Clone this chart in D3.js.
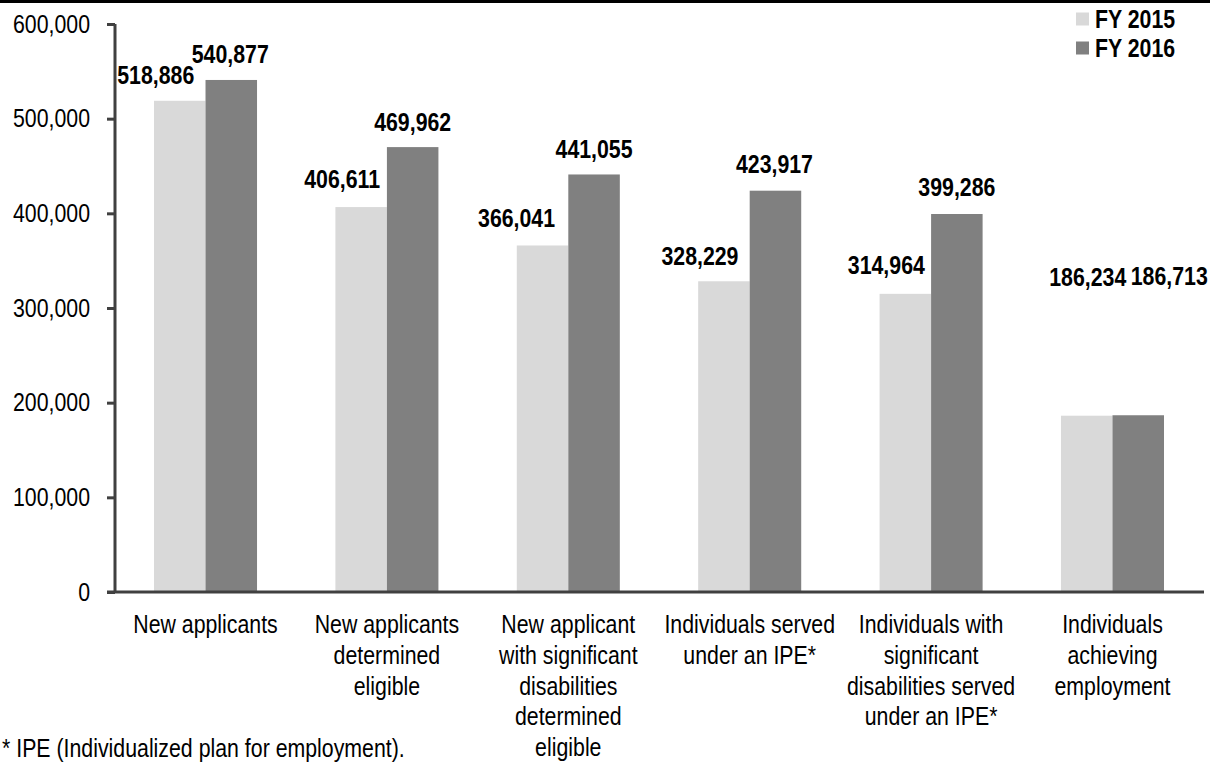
<!DOCTYPE html>
<html>
<head>
<meta charset="utf-8">
<script src="https://cdn.jsdelivr.net/npm/d3@7"></script>
<style>
  html, body { margin: 0; padding: 0; background: #ffffff; }
  svg { display: block; }
  text { font-family: "Liberation Sans", Arial, sans-serif; fill: #000; }
</style>
</head>
<body>
<svg id="chart" width="1210" height="763"></svg>
<script>
// ---------- data ----------
const categories = [
  "New applicants",
  "New applicants\ndetermined\neligible",
  "New applicant\nwith significant\ndisabilities\ndetermined\neligible",
  "Individuals served\nunder an IPE*",
  "Individuals with\nsignificant\ndisabilities served\nunder an IPE*",
  "Individuals\nachieving\nemployment"
];
const seriesNames = ["FY 2015", "FY 2016"];
const fy2015 = [518886, 406611, 366041, 328229, 314964, 186234];
const fy2016 = [540877, 469962, 441055, 423917, 399286, 186713];
const yTicks = [0, 100000, 200000, 300000, 400000, 500000, 600000];
const footnote = "* IPE (Individualized plan for employment).";

// ---------- layout (not data) ----------
const colors = ["#d9d9d9", "#808080"];
const axisColor = "#404040";
const sx = 0.82;               // condensed text look
const fontSize = 26;
// label nudges (manual placement in the original)
const labelDx = [[-24, -19, -26, -24, -19, 1], [-1, 0, 0, -1, 0, 31]];
const labelLift = [[26, 28, 28, 25, 29, 139], [26, 25, 26, 27, 27, 139]];

const svg = d3.select("#chart");

// top rule
svg.append("rect").attr("x", 0).attr("y", 0).attr("width", 1210).attr("height", 3).attr("fill", "#000");

const y = d3.scaleLinear().domain([0, 600000]).range([592, 24]);
const x0 = d3.scaleBand().domain(categories).range([115, 1203]).paddingInner(0.432).paddingOuter(0.215);
const x1 = d3.scaleBand().domain(seriesNames).range([0, x0.bandwidth()]);

const series = [fy2015, fy2016];
const fmt = d3.format(",");

// bars
series.forEach((vals, si) => {
  svg.append("g").selectAll("rect")
    .data(vals)
    .join("rect")
    .attr("x", (d, i) => x0(categories[i]) + x1(seriesNames[si]))
    .attr("y", d => y(d))
    .attr("width", x1.bandwidth())
    .attr("height", d => y(0) - y(d))
    .attr("fill", colors[si]);
});

// y axis
const yAxis = d3.axisLeft(y).tickValues(yTicks).tickFormat(fmt).tickSize(8).tickPadding(0);
const gy = svg.append("g").attr("transform", "translate(115,0)").call(yAxis);
gy.select(".domain").attr("stroke", axisColor).attr("stroke-width", 3)
  .attr("d", `M0,${y(600000)}V${y(0)}`);
gy.selectAll(".tick line").attr("stroke", axisColor).attr("stroke-width", 3);
gy.selectAll(".tick text").remove();
gy.selectAll(".tick").append("text")
  .attr("transform", `translate(-25,0) scale(${sx},1)`)
  .attr("text-anchor", "end")
  .attr("dy", "0.32em")
  .attr("font-size", fontSize)
  .attr("fill", "#000")
  .text(d => fmt(d));

// x axis
const xAxis = d3.axisBottom(x0).tickSize(0).tickFormat("");
const gx = svg.append("g").attr("transform", `translate(0,${y(0)})`).call(xAxis);
gx.select(".domain").attr("stroke", axisColor).attr("stroke-width", 3)
  .attr("d", `M107,0H1204`);

// category labels
categories.forEach(c => {
  const lines = c.split("\n");
  const t = svg.append("text")
    .attr("transform", `translate(${x0(c) + x0.bandwidth() / 2},633) scale(${sx},1)`)
    .attr("text-anchor", "middle")
    .attr("font-size", fontSize);
  lines.forEach((ln, k) => {
    t.append("tspan").attr("x", 0).attr("y", k * 30.8).text(ln);
  });
});

// value labels
series.forEach((vals, si) => {
  svg.append("g").selectAll("text")
    .data(vals)
    .join("text")
    .attr("transform", (d, i) => {
      const cx = x0(categories[i]) + x1(seriesNames[si]) + x1.bandwidth() / 2 + labelDx[si][i];
      const cy = y(d) - labelLift[si][i];
      return `translate(${cx},${cy}) scale(${sx},1)`;
    })
    .attr("text-anchor", "middle")
    .attr("dy", "0.35em")
    .attr("font-size", fontSize)
    .attr("font-weight", "bold")
    .text(d => fmt(d));
});

// legend
const lg = svg.append("g");
seriesNames.forEach((s, si) => {
  const cy = 19 + si * 29;
  lg.append("rect").attr("x", 1076).attr("y", cy - 6.5).attr("width", 13).attr("height", 13).attr("fill", colors[si]);
  lg.append("text")
    .attr("transform", `translate(1095,${cy}) scale(${sx},1)`)
    .attr("dy", "0.35em")
    .attr("font-size", fontSize)
    .attr("font-weight", "bold")
    .text(s);
});

// footnote
svg.append("text")
  .attr("transform", `translate(2,757) scale(${sx},1)`)
  .attr("font-size", fontSize)
  .text(footnote);
</script>
</body>
</html>
